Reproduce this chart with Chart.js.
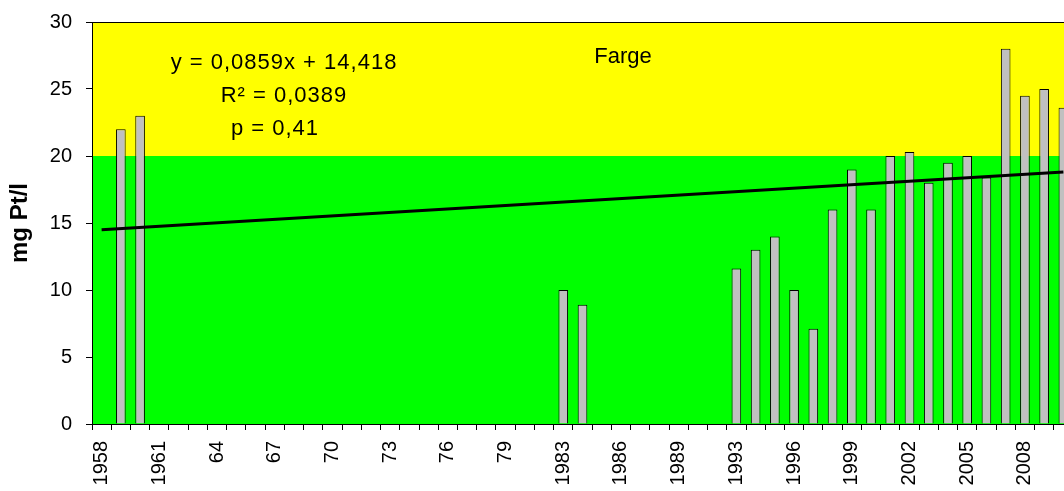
<!DOCTYPE html>
<html>
<head>
<meta charset="utf-8">
<title>Farge</title>
<script src="https://cdn.jsdelivr.net/npm/chart.js@4.4.1/dist/chart.umd.min.js"></script>
<style>
    html, body { margin: 0; padding: 0; background: #ffffff; overflow: hidden; }
    #wrap { position: absolute; left: 0; top: 0; }
</style>
</head>
<body>
<div id="wrap"><canvas id="fargeChart" width="1080" height="520"></canvas></div>
<script>
// Colour (mg Pt/l) per year

const years = [
    '1958', '1959', '1960', '1961', '62', '63', '64', '65', '66', '67',
    '68', '69', '70', '71', '72', '73', '74', '75', '76', '77',
    '78', '79', '80', '81', '1983', '1984', '1985', '1986', '1987', '1988',
    '1989', '1990', '1991', '1993', '1994', '1995', '1996', '1997', '1998', '1999',
    '2000', '2001', '2002', '2003', '2004', '2005', '2006', '2007', '2008', '2009',
    '2010'
];

const colourValues = [
    null, 22.0, 23.0, null, null, null, null, null, null, null,
    null, null, null, null, null, null, null, null, null, null,
    null, null, null, null, 10.0, 8.9, null, null, null, null,
    null, null, null, 11.6, 13.0, 14.0, 10.0, 7.1, 16.0, 19.0,
    16.0, 20.0, 20.3, 18.0, 19.5, 20.0, 18.4, 28.0, 24.5, 25.0,
    23.6
];

// linear trend, value at first and last category
const trendStart = 14.5;
const trendEnd = 18.8;

// background bands: green below 20, yellow above
const bandLimits = [0, 20, 30];
const bandColors = ['#00ff00', '#ffff00'];

const yTicks = [0, 5, 10, 15, 20, 25, 30];
const labelStep = 3;

const equationLines = ['y = 0,0859x + 14,418', 'R\u00b2 = 0,0389', 'p = 0,41'];
const chartLabel = 'Farge';

Chart.defaults.font.family = '"Liberation Sans", Arial, sans-serif';
Chart.defaults.color = '#000000';

const trendData = years.map((y, i) => {
    if (i === 0) return trendStart;
    if (i === years.length - 1) return trendEnd;
    return null;
});

// coloured bands behind the bars + frame round the plot area
const bandPlugin = {
    id: 'bands',
    beforeDatasetsDraw(chart) {
        const { ctx, chartArea, scales } = chart;
        ctx.save();
        for (let i = 0; i < bandColors.length; i++) {
            const yTop = scales.y.getPixelForValue(bandLimits[i + 1]);
            const yBot = scales.y.getPixelForValue(bandLimits[i]);
            ctx.fillStyle = bandColors[i];
            ctx.fillRect(chartArea.left, yTop, chartArea.right - chartArea.left, yBot - yTop);
        }
        ctx.restore();
    },
    afterDraw(chart) {
        const { ctx, chartArea } = chart;
        ctx.save();
        ctx.strokeStyle = '#000000';
        ctx.lineWidth = 1;
        ctx.strokeRect(chartArea.left + 0.5, chartArea.top + 0.5,
            chartArea.right - chartArea.left, chartArea.bottom - chartArea.top);
        ctx.restore();
    }
};

// regression text and series name
const textPlugin = {
    id: 'notes',
    afterDatasetsDraw(chart) {
        const ctx = chart.ctx;
        ctx.save();
        ctx.fillStyle = '#000000';
        ctx.font = '22px "Liberation Sans", Arial, sans-serif';
        ctx.textAlign = 'center';
        ctx.textBaseline = 'alphabetic';
        ctx.letterSpacing = '1px';
        ctx.fillText(equationLines[0], 284, 69);
        ctx.fillText(equationLines[1], 284, 102);
        ctx.fillText(equationLines[2], 275, 135);
        ctx.letterSpacing = '0px';
        ctx.fillText(chartLabel, 623, 63);
        ctx.restore();
    }
};

const ctx = document.getElementById('fargeChart');
new Chart(ctx, {
    type: 'bar',
    data: {
        labels: years,
        datasets: [
            {
                type: 'line',
                label: 'Trend',
                data: trendData,
                borderColor: '#000000',
                borderWidth: 3,
                pointRadius: 0,
                spanGaps: true,
                fill: false,
                order: 0
            },
            {
                label: 'Farge',
                data: colourValues,
                backgroundColor: '#c0c0c0',
                borderColor: '#000000',
                borderWidth: 1,
                barPercentage: 0.5,
                categoryPercentage: 1.0,
                order: 1
            }
        ]
    },
    options: {
        responsive: false,
        devicePixelRatio: 1,
        animation: false,
        layout: {
            padding: { top: 22, left: 0, right: 7, bottom: 0 }
        },
        plugins: {
            legend: { display: false },
            tooltip: { enabled: false }
        },
        scales: {
            x: {
                offset: true,
                grid: {
                    display: true,
                    offset: true,
                    drawOnChartArea: false,
                    drawTicks: true,
                    tickLength: 6,
                    color: '#000000'
                },
                border: { display: true, color: '#000000', width: 1 },
                ticks: {
                    autoSkip: false,
                    minRotation: 90,
                    maxRotation: 90,
                    padding: 11,
                    color: '#000000',
                    font: { size: 20 },
                    callback: function (val, i) {
                        return i % labelStep === 0 ? this.getLabelForValue(val) : '';
                    }
                },
                afterFit: (scale) => {
                    scale.height = 96;
                    scale.paddingLeft = 0;
                    scale.paddingRight = 0;
                }
            },
            y: {
                min: yTicks[0],
                max: yTicks[yTicks.length - 1],
                afterBuildTicks: (scale) => { scale.ticks = yTicks.map(v => ({ value: v })); },
                grid: {
                    display: true,
                    drawOnChartArea: false,
                    drawTicks: true,
                    tickLength: 6,
                    color: '#000000'
                },
                border: { display: true, color: '#000000', width: 1 },
                ticks: {
                    padding: 14,
                    color: '#000000',
                    font: { size: 20 }
                },
                title: {
                    display: true,
                    text: 'mg Pt/l',
                    color: '#000000',
                    font: { size: 24, weight: 'bold' },
                    padding: { top: 6, bottom: 0 }
                },
                afterFit: (scale) => {
                    scale.width = 92;
                    scale.paddingTop = 0;
                    scale.paddingBottom = 0;
                }
            }
        }
    },
    plugins: [bandPlugin, textPlugin]
});
</script>
</body>
</html>
